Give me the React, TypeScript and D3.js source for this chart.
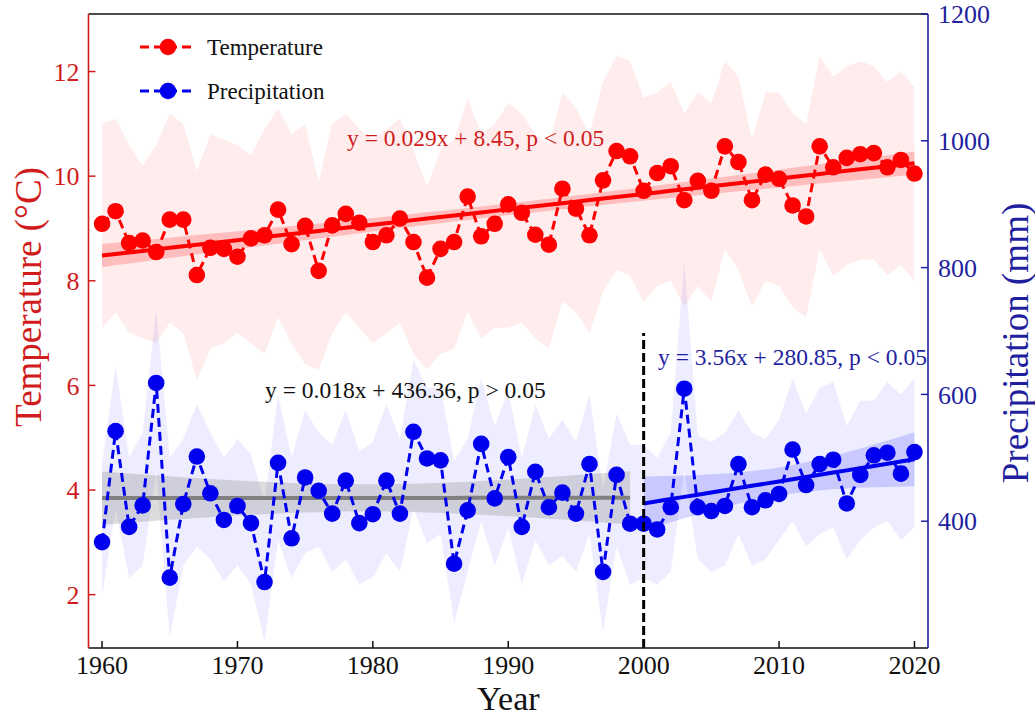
import React from 'react';
import * as d3 from 'd3';

const years = [
  1960, 1961, 1962, 1963, 1964, 1965, 1966, 1967, 1968, 1969,
  1970, 1971, 1972, 1973, 1974, 1975, 1976, 1977, 1978, 1979,
  1980, 1981, 1982, 1983, 1984, 1985, 1986, 1987, 1988, 1989,
  1990, 1991, 1992, 1993, 1994, 1995, 1996, 1997, 1998, 1999,
  2000, 2001, 2002, 2003, 2004, 2005, 2006, 2007, 2008, 2009,
  2010, 2011, 2012, 2013, 2014, 2015, 2016, 2017, 2018, 2019, 2020,
];

const temperature = [
  9.09, 9.33, 8.72, 8.77, 8.55, 9.17, 9.17, 8.11, 8.63, 8.61,
  8.46, 8.81, 8.87, 9.36, 8.70, 9.05, 8.19, 9.06, 9.28, 9.11,
  8.74, 8.87, 9.19, 8.74, 8.06, 8.61, 8.74, 9.61, 8.85, 9.09,
  9.46, 9.30, 8.88, 8.69, 9.76, 9.38, 8.87, 9.92, 10.48, 10.38,
  9.72, 10.06, 10.19, 9.54, 9.91, 9.72, 10.57, 10.27, 9.54, 10.03,
  9.95, 9.44, 9.23, 10.57, 10.17, 10.35, 10.42, 10.44, 10.17, 10.31, 10.05,
];

const temperatureUpper = [
  11.0, 11.1, 10.6, 10.2, 10.6, 11.2, 11.0, 10.1, 10.8, 10.7,
  10.6, 10.4, 10.9, 11.3, 10.8, 11.0, 9.9, 11.0, 11.2, 10.9,
  10.7, 10.9, 11.1, 10.5, 9.8, 10.5, 10.7, 11.5, 10.8, 11.0,
  11.4, 11.2, 10.8, 10.6, 11.6, 11.3, 10.8, 11.8, 12.3, 12.2,
  11.5, 11.6, 11.8, 11.2, 11.6, 11.4, 12.2, 11.9, 10.7, 11.6,
  11.6, 11.2, 11.0, 12.3, 11.9, 12.1, 12.2, 12.1, 11.8, 12.0, 11.7,
];

const temperatureLower = [
  7.1, 7.4, 7.0, 6.9, 6.8, 7.2, 7.0, 6.1, 6.7, 6.8,
  7.0, 6.8, 6.6, 7.3, 6.8, 6.4, 6.3, 7.0, 7.4, 7.1,
  6.8, 7.0, 7.2, 6.6, 6.3, 6.6, 6.7, 7.4, 6.9, 7.1,
  7.1, 7.2, 6.9, 6.7, 7.6, 7.4, 7.0, 7.8, 8.2, 8.1,
  7.6, 7.9, 8.0, 7.5, 7.9, 7.6, 8.6, 8.2, 7.5, 8.0,
  7.9, 7.5, 7.3, 8.6, 8.1, 8.3, 8.4, 8.4, 8.1, 8.3, 8.0,
];

const precipitation = [
  367, 542, 391, 425, 618, 311, 427, 502, 444, 402,
  424, 397, 304, 492, 373, 469, 448, 412, 464, 397,
  411, 464, 412, 541, 499, 496, 333, 417, 522, 436,
  501, 391, 478, 422, 445, 412, 490, 320, 473, 396,
  396, 387, 422, 609, 422, 416, 424, 490, 422, 433,
  443, 513, 457, 490, 497, 428, 473, 504, 508, 475, 509,
];

const precipitationUpper = [
  490, 645, 500, 540, 735, 500, 530, 585, 540, 500,
  530, 505, 430, 600, 500, 575, 540, 520, 575, 510,
  525, 585, 530, 655, 610, 610, 495, 530, 625, 550,
  605, 500, 585, 530, 560, 525, 600, 450, 570, 520,
  520, 500, 540, 810, 535, 525, 540, 575, 540, 530,
  560, 625, 570, 610, 620, 550, 590, 590, 620, 600, 625,
];

const precipitationLower = [
  280, 420, 310, 330, 480, 215, 330, 360, 340, 305,
  330, 300, 210, 370, 310, 350, 360, 320, 340, 300,
  312, 350, 320, 420, 365, 380, 240, 320, 400, 330,
  390, 300, 370, 330, 345, 320, 380, 225, 360, 300,
  310, 300, 320, 480, 340, 320, 330, 380, 330, 340,
  370, 400, 360, 380, 390, 340, 370, 390, 400, 370, 390,
];

const yearTicks = [1960, 1970, 1980, 1990, 2000, 2010, 2020];
const temperatureTicks = [2, 4, 6, 8, 10, 12];
const precipitationTicks = [400, 600, 800, 1000, 1200];
const breakYear = 2000;
const breakLineTopTemperature = 7;

const tempEquation = 'y = 0.029x + 8.45, p < 0.05';
const precipEarlyEquation = 'y = 0.018x + 436.36, p > 0.05';
const precipLateEquation = 'y = 3.56x + 280.85, p < 0.05';

const W = 1035;
const H = 720;
const L = 88.5;
const R = 928;
const T = 14;
const B = 648;

const RED = '#ff0000';
const RED_AXIS = '#d01c1c';
const BLUE = '#0000ee';
const BLUE_AXIS = '#1f1fa0';
const FONT = "'Liberation Serif', 'Times New Roman', serif";

function fit(xs: number[], ys: number[]) {
  const n = xs.length;
  const mx = d3.mean(xs) as number;
  const my = d3.mean(ys) as number;
  let sxx = 0;
  let sxy = 0;
  xs.forEach((x, i) => {
    sxx += (x - mx) * (x - mx);
    sxy += (x - mx) * (ys[i] - my);
  });
  const slope = sxy / sxx;
  const intercept = my - slope * mx;
  let sse = 0;
  xs.forEach((x, i) => {
    const r = ys[i] - (intercept + slope * x);
    sse += r * r;
  });
  const df = n - 2;
  const s = Math.sqrt(sse / df);
  const tcrit = 1.96 + 2.4 / df;
  return xs.map((x) => {
    const yh = intercept + slope * x;
    const se = s * Math.sqrt(1 / n + ((x - mx) * (x - mx)) / sxx);
    return { x, y: yh, lo: yh - tcrit * se, hi: yh + tcrit * se };
  });
}

export default function App() {
  const x = d3.scaleLinear().domain([1959, 2021]).range([L, R]);
  const yT = d3.scaleLinear().domain([0.98, 13.1]).range([B, T]);
  const yP = d3.scaleLinear().domain([200, 1200]).range([B, T]);

  const tempRows = years.map((yr, i) => ({ yr, v: temperature[i], hi: temperatureUpper[i], lo: temperatureLower[i] }));
  const precRows = years.map((yr, i) => ({ yr, v: precipitation[i], hi: precipitationUpper[i], lo: precipitationLower[i] }));

  const tempBand = d3.area<any>().x((d) => x(d.yr)).y0((d) => yT(d.lo)).y1((d) => yT(d.hi))(tempRows) as string;
  const precBand = d3.area<any>().x((d) => x(d.yr)).y0((d) => yP(d.lo)).y1((d) => yP(d.hi))(precRows) as string;

  const tempLine = d3.line<any>().x((d) => x(d.yr)).y((d) => yT(d.v))(tempRows) as string;
  const precLine = d3.line<any>().x((d) => x(d.yr)).y((d) => yP(d.v))(precRows) as string;

  const tFit = fit(years, temperature);
  const early = years.map((y, i) => i).filter((i) => years[i] < breakYear);
  const late = years.map((y, i) => i).filter((i) => years[i] >= breakYear);
  const pFitEarly = fit(early.map((i) => years[i]), early.map((i) => precipitation[i]));
  const pFitLate = fit(late.map((i) => years[i]), late.map((i) => precipitation[i]));

  const ciArea = (ys: any) => d3.area<any>().x((d) => x(d.x)).y0((d) => ys(d.lo)).y1((d) => ys(d.hi));
  const fitLine = (ys: any) => d3.line<any>().x((d) => x(d.x)).y((d) => ys(d.y));

  const dash = '9,5';

  return (
    <svg width={W} height={H} style={{ position: 'absolute', left: 0, top: 0, background: '#fff' }} fontFamily={FONT}>
      <rect x={0} y={0} width={W} height={H} fill="#fff" />
      {/* ranges */}
      <path d={tempBand} fill={RED} fillOpacity={0.07} />
      <path d={precBand} fill="#0000ff" fillOpacity={0.07} />

      {/* confidence bands */}
      <path d={ciArea(yT)(tFit) as string} fill={RED} fillOpacity={0.2} />
      <path d={ciArea(yP)(pFitEarly) as string} fill="#808080" fillOpacity={0.28} />
      <path d={ciArea(yP)(pFitLate) as string} fill="#0000ff" fillOpacity={0.15} />

      {/* trend lines */}
      <path d={fitLine(yT)(tFit) as string} fill="none" stroke={RED} strokeWidth={4} />
      <path d={fitLine(yP)(pFitEarly) as string} fill="none" stroke="#808080" strokeWidth={4} />
      <path d={fitLine(yP)(pFitLate) as string} fill="none" stroke={BLUE} strokeWidth={4} />

      {/* series */}
      <path d={tempLine} fill="none" stroke={RED} strokeWidth={3} strokeDasharray={dash} />
      {tempRows.map((d) => (
        <circle key={'t' + d.yr} cx={x(d.yr)} cy={yT(d.v)} r={8.3} fill={RED} />
      ))}
      <path d={precLine} fill="none" stroke={BLUE} strokeWidth={3} strokeDasharray={dash} />
      {precRows.map((d) => (
        <circle key={'p' + d.yr} cx={x(d.yr)} cy={yP(d.v)} r={8.3} fill={BLUE} />
      ))}

      {/* break line */}
      <line x1={x(breakYear)} x2={x(breakYear)} y1={B} y2={yT(breakLineTopTemperature)} stroke="#000" strokeWidth={3} strokeDasharray="9,4" />

      {/* equations */}
      <text x={347} y={146} fontSize={23.5} fill={RED_AXIS}>{tempEquation}</text>
      <text x={265} y={398} fontSize={23.5} fill="#111">{precipEarlyEquation}</text>
      <text x={658} y={365} fontSize={23.5} fill={BLUE_AXIS}>{precipLateEquation}</text>

      {/* legend */}
      <g>
        <line x1={140} x2={196} y1={47} y2={47} stroke={RED} strokeWidth={3} strokeDasharray={dash} />
        <circle cx={168} cy={47} r={8.3} fill={RED} />
        <text x={207} y={55} fontSize={23} fill="#111">Temperature</text>
        <line x1={140} x2={196} y1={91} y2={91} stroke={BLUE} strokeWidth={3} strokeDasharray={dash} />
        <circle cx={168} cy={91} r={8.3} fill={BLUE} />
        <text x={207} y={99} fontSize={23} fill="#111">Precipitation</text>
      </g>

      {/* frame */}
      <line x1={L} x2={R} y1={T} y2={T} stroke="#111" strokeWidth={1.6} />
      <line x1={L} x2={R} y1={B} y2={B} stroke="#111" strokeWidth={1.6} />
      <line x1={L} x2={L} y1={T} y2={B} stroke={RED_AXIS} strokeWidth={1.6} />
      <line x1={R} x2={R} y1={T} y2={B} stroke={BLUE_AXIS} strokeWidth={1.6} />

      {/* x ticks */}
      {yearTicks.map((t) => (
        <g key={'x' + t}>
          <line x1={x(t)} x2={x(t)} y1={B} y2={B - 7} stroke="#111" strokeWidth={1.5} />
          <text x={x(t)} y={B + 26} fontSize={26} textAnchor="middle" fill="#111">{t}</text>
        </g>
      ))}
      {/* left ticks */}
      {temperatureTicks.map((t) => (
        <g key={'l' + t}>
          <line x1={L} x2={L + 7} y1={yT(t)} y2={yT(t)} stroke={RED_AXIS} strokeWidth={1.5} />
          <text x={L - 9} y={yT(t)} dy="0.35em" fontSize={26} textAnchor="end" fill={RED_AXIS}>{t}</text>
        </g>
      ))}
      {/* right ticks */}
      {precipitationTicks.map((t) => (
        <g key={'r' + t}>
          <line x1={R} x2={R - 7} y1={yP(t)} y2={yP(t)} stroke={BLUE_AXIS} strokeWidth={1.5} />
          <text x={R + 10} y={yP(t)} dy="0.35em" fontSize={26} textAnchor="start" fill={BLUE_AXIS}>{t}</text>
        </g>
      ))}

      {/* axis labels */}
      <text x={(L + R) / 2} y={710} fontSize={34} textAnchor="middle" fill="#111">Year</text>
      <text transform={`translate(41, 297) rotate(-90)`} fontSize={37} textAnchor="middle" fill={RED_AXIS}>Temperature (°C)</text>
      <text transform={`translate(1028, 343) rotate(-90)`} fontSize={37} textAnchor="middle" fill={BLUE_AXIS}>Precipitation (mm)</text>
    </svg>
  );
}
